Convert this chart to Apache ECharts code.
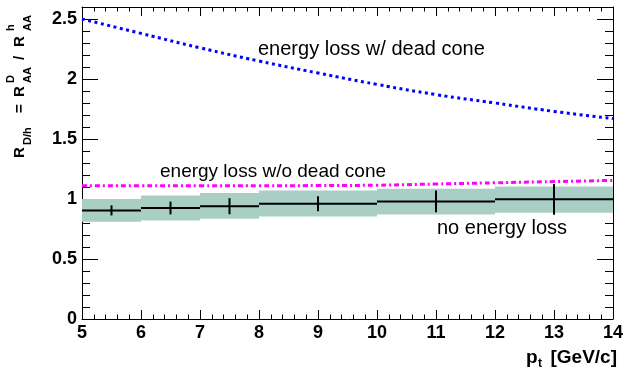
<!DOCTYPE html>
<html>
<head>
<meta charset="utf-8">
<script src="https://cdn.jsdelivr.net/npm/echarts@6/dist/echarts.min.js"></script>
<style>
  html, body { margin: 0; padding: 0; background: #fff; }
  #chart { width: 629px; height: 370px; }
</style>
</head>
<body>
<div id="chart"></div>
<script>
// curves (pt in GeV/c)
const ptPoints = [5, 6, 7, 8, 9, 10, 11, 12, 13, 14];
const withDeadCone = [2.50, 2.38, 2.26, 2.15, 2.05, 1.955, 1.87, 1.80, 1.73, 1.67];
const withoutDeadCone = [1.11, 1.11, 1.11, 1.11, 1.112, 1.115, 1.125, 1.135, 1.145, 1.155];

// "no energy loss" histogram
const binLow = [5, 6, 7, 8, 10, 12];
const binHigh = [6, 7, 8, 10, 12, 14];
const binValue = [0.905, 0.925, 0.94, 0.96, 0.98, 0.997];
const statErr = [0.042, 0.053, 0.067, 0.063, 0.09, 0.128];
const sysLow = [0.81, 0.82, 0.835, 0.855, 0.87, 0.885];
const sysHigh = [1.0, 1.03, 1.05, 1.07, 1.085, 1.105];

const xTicks = [5, 6, 7, 8, 9, 10, 11, 12, 13, 14];
const yTicks = [0, 0.5, 1, 1.5, 2, 2.5];

const FONT = '"Liberation Sans", Arial, Helvetica, sans-serif';

const chart = echarts.init(document.getElementById('chart'));

const bandData = binLow.map((lo, i) => [lo, binHigh[i], sysLow[i], sysHigh[i]]);
const histData = binLow.map((lo, i) => [lo, binHigh[i], binValue[i], statErr[i]]);

function xAxisCfg(pos, showLabel) {
  return {
    type: 'value', position: pos, min: xTicks[0], max: xTicks[xTicks.length - 1], interval: 1,
    axisLine: { show: true, onZero: false, lineStyle: { color: '#000', width: 1 } },
    axisTick: { show: true, inside: true, length: 9, lineStyle: { color: '#000', width: 1 } },
    minorTick: { show: true, splitNumber: 5, length: 4.5, lineStyle: { color: '#000', width: 1 } },
    splitLine: { show: false },
    axisLabel: {
      show: showLabel, margin: 5, color: '#000',
      fontFamily: FONT, fontWeight: 'bold', fontSize: 18
    }
  };
}

function yAxisCfg(pos, major, showLabel) {
  return {
    type: 'value', position: pos, min: 0, max: 2.6, interval: major ? 0.5 : 0.1,
    axisLine: { show: major, onZero: false, lineStyle: { color: '#000', width: 1 } },
    axisTick: { show: true, inside: true, length: major ? 16 : 8, lineStyle: { color: '#000', width: 1 } },
    splitLine: { show: false },
    axisLabel: {
      show: showLabel, margin: 5, color: '#000', showMaxLabel: false,
      fontFamily: FONT, fontWeight: 'bold', fontSize: 18,
      formatter: v => (yTicks.indexOf(v) >= 0 ? String(v) : '')
    }
  };
}

// pieces of the y title, laid along the axis (s = distance from the lower end)
const mainF = 'bold 15px ' + FONT;
const smallF = 'bold 11px ' + FONT;
const titleParts = [
  { text: 'R', s: 0, base: 0, font: mainF, size: 15 },
  { text: 'D/h', s: 13, base: 7, font: smallF, size: 11 },
  { text: '=', s: 45, base: 0, font: mainF, size: 15 },
  { text: 'R', s: 61, base: 0, font: mainF, size: 15 },
  { text: 'D', s: 75, base: -10, font: smallF, size: 11 },
  { text: 'AA', s: 75, base: 7, font: smallF, size: 11 },
  { text: '/', s: 98, base: 0, font: mainF, size: 15 },
  { text: 'R', s: 111, base: 0, font: mainF, size: 15 },
  { text: 'h', s: 127, base: -10, font: smallF, size: 11 },
  { text: 'AA', s: 127, base: 7, font: smallF, size: 11 }
];

function txt(text, x, baseline, font, size, align) {
  return {
    type: 'text', x: x, y: baseline - 0.35 * size,
    style: { text: text, font: font, fill: '#000', textAlign: align || 'left', textVerticalAlign: 'middle' }
  };
}

const option = {
  animation: false,
  backgroundColor: '#fff',
  grid: { left: 82, right: 16, top: 7, bottom: 51 },
  xAxis: [xAxisCfg('bottom', true), xAxisCfg('top', false)],
  yAxis: [
    yAxisCfg('left', true, true),
    yAxisCfg('left', false, false),
    yAxisCfg('right', true, false),
    yAxisCfg('right', false, false)
  ],
  series: [
    {
      type: 'custom', name: 'sys', data: bandData, z: 1,
      renderItem: (params, api) => {
        const p1 = api.coord([api.value(0), api.value(3)]);
        const p2 = api.coord([api.value(1), api.value(2)]);
        return { type: 'rect', shape: { x: p1[0], y: p1[1], width: p2[0] - p1[0], height: p2[1] - p1[1] },
          style: { fill: '#a9cfc5' } };
      }
    },
    {
      type: 'custom', name: 'no energy loss', data: histData, z: 3,
      renderItem: (params, api) => {
        const lo = api.value(0), hi = api.value(1), v = api.value(2), e = api.value(3);
        const c = (lo + hi) / 2;
        const a = api.coord([lo, v]), b = api.coord([hi, v]);
        const t = api.coord([c, v + e]), u = api.coord([c, v - e]);
        const st = { stroke: '#000', lineWidth: 2 };
        return { type: 'group', children: [
          { type: 'line', shape: { x1: a[0], y1: a[1], x2: b[0], y2: b[1] }, style: st },
          { type: 'line', shape: { x1: t[0], y1: t[1], x2: u[0], y2: u[1] }, style: st }
        ] };
      }
    },
    {
      type: 'line', name: 'energy loss w/o dead cone', smooth: true, showSymbol: false, z: 4,
      data: ptPoints.map((x, i) => [x, withoutDeadCone[i]]),
      lineStyle: { color: '#ff00ff', width: 3, type: [5, 3, 2, 3], cap: 'butt' }
    },
    {
      type: 'line', name: 'energy loss w/ dead cone', smooth: true, showSymbol: false, z: 4,
      data: ptPoints.map((x, i) => [x, withDeadCone[i]]),
      lineStyle: { color: '#0000ff', width: 3, type: [3, 3.5], cap: 'butt' }
    }
  ],
  graphic: [
    txt('energy loss w/ dead cone', 258, 56, '20px ' + FONT, 20),
    txt('energy loss w/o dead cone', 160, 178, '19px ' + FONT, 19),
    txt('no energy loss', 437, 235, '20px ' + FONT, 20),
    txt('p', 526, 364, 'bold 19px ' + FONT, 19),
    txt('t', 538, 368, 'bold 12px ' + FONT, 12),
    txt('[GeV/c]', 617, 364, 'bold 19px ' + FONT, 19, 'right'),
    {
      type: 'group', x: 25, y: 158, rotation: Math.PI / 2,
      children: titleParts.map(p => txt(p.text, p.s, p.base, p.font, p.size))
    }
  ]
};

chart.setOption(option);
</script>
</body>
</html>
